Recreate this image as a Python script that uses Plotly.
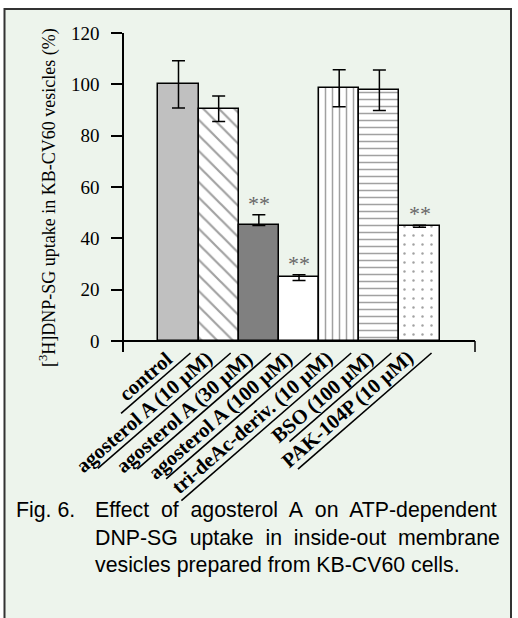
import math
import plotly.graph_objects as go

# ---- data -------------------------------------------------------------
categories = [
    "control",
    "agosterol A (10 µM)",
    "agosterol A (30 µM)",
    "agosterol A (100 µM)",
    "tri-deAc-deriv. (10 µM)",
    "BSO (100 µM)",
    "PAK-104P (10 µM)",
]
uptake = [100.0, 90.5, 45.0, 24.8, 98.5, 97.8, 44.7]
err_plus = [9.2, 5.0, 4.2, 1.0, 7.2, 7.8, 0.4]
err_minus = [9.2, 5.0, 0.0, 1.2, 7.2, 8.0, 0.4]
significant = [False, False, True, True, False, False, True]
y_ticks = [0, 20, 40, 60, 80, 100, 120]

# ---- styling ----------------------------------------------------------
W, H = 518, 618
ML, MR, MT, MB = 112, 43, 33, 266
Y_RANGE = [-4.29, 120]
X_RANGE = [-1.655, 7.38]
BG = "#edf4ec"
SERIF = "Liberation Serif"
SANS = "Liberation Sans"

fills = ["#c0c0c0", "white", "#808080", "white", "white", "white", "white"]
hatch = ["", "\\", "", "", "|", "-", "."]
hatch_fg = ["black", "black", "black", "black", "#333", "#222", "#555"]
hatch_size = [8, 11, 8, 8, 7, 7, 9]
hatch_solid = [0.1, 0.2, 0.1, 0.1, 0.22, 0.22, 0.06]

# slanted label rules: pixel length of each underline
rule_len = [92, 176, 177, 192, 225, 135, 177]
SLANT = 41.0
RULE_DX, RULE_DY = 12, 12     # upper end of a rule, px right of / below the tick

plot_w = W - ML - MR
plot_h = H - MT - MB


def px_x(px):
    return (px - ML) / plot_w


def px_y(py):
    return (H - MB - py) / plot_h


def cat_paper_x(i):
    # paper-space position of category i on the x axis
    return (i - X_RANGE[0]) / (X_RANGE[1] - X_RANGE[0])


def value_paper_y(v):
    return (v - Y_RANGE[0]) / (Y_RANGE[1] - Y_RANGE[0])


fig = go.Figure()

fig.add_trace(go.Bar(
    x=list(range(len(categories))),
    y=uptake,
    width=1.0,
    marker=dict(
        color=fills,
        line=dict(color="black", width=1.5),
        pattern=dict(shape=hatch, fgcolor=hatch_fg, bgcolor=fills,
                     size=hatch_size, solidity=hatch_solid),
    ),
    error_y=dict(type="data", symmetric=False, array=err_plus,
                 arrayminus=err_minus, color="black", thickness=1.5, width=6.5),
    showlegend=False,
))

annotations = []
shapes = [
    # panel frame
    dict(type="rect", xref="paper", yref="paper", layer="below",
         x0=px_x(4.5), x1=px_x(511), y0=px_y(640), y1=px_y(9),
         fillcolor=BG, line=dict(color="#333", width=2)),
    # end tick of the category axis
    dict(type="line", xref="paper", yref="y", x0=1, x1=1, y0=0, y1=Y_RANGE[0],
         line=dict(color="black", width=1.5)),
]

# significance marks
for i, (v, e, s) in enumerate(zip(uptake, err_plus, significant)):
    if s:
        annotations.append(dict(
            x=i, y=v + e, xref="x", yref="y", text="**", showarrow=False,
            xanchor="center", yanchor="bottom", yshift=-3,
            font=dict(family=SERIF, size=22, color="#666"),
        ))

# slanted category labels, each resting on its own rule
ca, sa = math.cos(math.radians(SLANT)), math.sin(math.radians(SLANT))
for i, lab in enumerate(categories):
    annotations.append(dict(
        x=i, y=0, xref="x", yref="y", text="<b>" + lab + "</b>", showarrow=False,
        textangle=-SLANT, xanchor="right", yanchor="top",
        xshift=1, yshift=-3,
        font=dict(family=SERIF, size=20.5, color="black"),
    ))
    L = rule_len[i]
    shapes.append(dict(
        type="line", xref="paper", yref="paper",
        xsizemode="pixel", xanchor=cat_paper_x(i), x0=RULE_DX, x1=RULE_DX - L * ca,
        ysizemode="pixel", yanchor=value_paper_y(0), y0=-RULE_DY, y1=-RULE_DY - L * sa,
        line=dict(color="black", width=1.6),
    ))

# y-axis title
annotations.append(dict(
    x=px_x(48), y=px_y(198), xref="paper", yref="paper",
    text="[<sup>3</sup>H]DNP-SG uptake in KB-CV60 vesicles (%)",
    textangle=-90, showarrow=False, xanchor="center", yanchor="middle",
    font=dict(family=SERIF, size=18, color="black"),
))

# caption
NB = "\u00a0"
annotations.append(dict(
    x=px_x(14), y=px_y(496), xref="paper", yref="paper",
    text="Fig. 6.", showarrow=False, xanchor="left", yanchor="top",
    font=dict(family=SANS, size=21.3, color="black"),
))
annotations.append(dict(
    x=px_x(93), y=px_y(496), xref="paper", yref="paper",
    text=("Effect" + NB + " of" + NB + " agosterol" + NB + " A" + NB + " on" + NB + " ATP-dependent<br>"
          "DNP-SG" + NB + " uptake" + NB + " in" + NB + " inside-out" + NB + " membrane<br>"
          "vesicles prepared from KB-CV60 cells."),
    showarrow=False, xanchor="left", yanchor="top", align="left",
    font=dict(family=SANS, size=21.3, color="black"),
))

fig.update_layout(
    width=W, height=H,
    margin=dict(l=ML, r=MR, t=MT, b=MB, pad=0),
    paper_bgcolor="white",
    plot_bgcolor="rgba(0,0,0,0)",
    bargap=0,
    annotations=annotations,
    shapes=shapes,
    xaxis=dict(range=X_RANGE, showticklabels=False, ticks="", showline=False,
               showgrid=False, zeroline=False),
    yaxis=dict(range=Y_RANGE, anchor="free", position=px_x(123),
               tickvals=y_ticks, ticks="outside", ticklen=11, tickwidth=1.5,
               tickcolor="black", showline=True, linecolor="black", linewidth=1.5,
               showgrid=False, zeroline=True, zerolinecolor="black",
               zerolinewidth=1.5, ticklabelstandoff=8,
               tickfont=dict(family=SERIF, size=19, color="black")),
)

fig.write_html("out.html")
